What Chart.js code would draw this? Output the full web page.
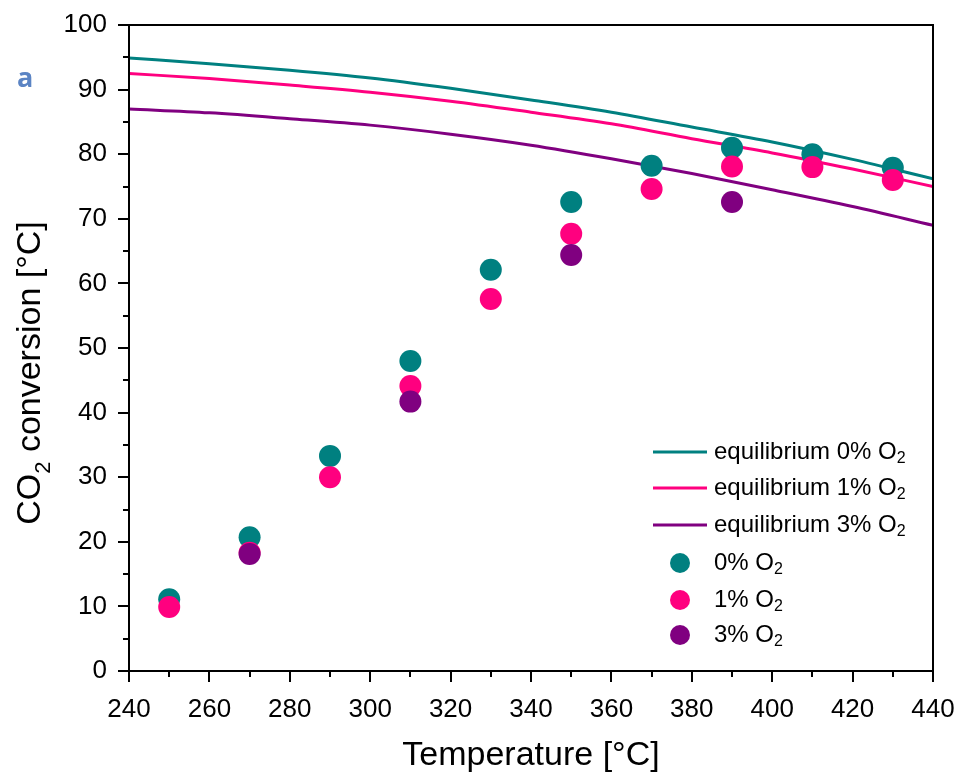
<!DOCTYPE html>
<html>
<head>
<meta charset="utf-8">
<script src="https://cdn.jsdelivr.net/npm/chart.js@4"></script>
<style>
  html, body { margin: 0; padding: 0; background: #fff; }
  #wrap { width: 956px; height: 773px; }
</style>
</head>
<body>
<div id="wrap"><canvas id="chart" width="956" height="773"></canvas></div>
<script>
// measured points (temperature in °C, conversion in %)
const tempsMeas = [250, 270, 290, 310, 330, 350, 370, 390, 410, 430];
const conv0 = [11.1, 20.7, 33.3, 48.0, 62.1, 72.6, 78.2, 81.0, 80.0, 77.9];
const conv1 = [9.9, 18.3, 30.0, 44.1, 57.6, 67.7, 74.6, 78.1, 78.0, 76.0];
const temps3 = [270, 310, 350, 390];
const conv3 = [18.1, 41.7, 64.4, 72.6];

// equilibrium curves
const tempsEq = [240, 260, 280, 300, 320, 340, 360, 380, 400, 420, 440];
const eq0 = [94.9, 94.0, 93.0, 91.8, 90.2, 88.4, 86.5, 84.2, 81.9, 79.2, 76.2];
const eq1 = [92.5, 91.7, 90.7, 89.6, 88.2, 86.5, 84.7, 82.4, 80.2, 77.7, 75.0];
const eq3 = [87.0, 86.4, 85.5, 84.5, 83.1, 81.4, 79.3, 77.0, 74.5, 71.9, 69.0];

const TEAL = '#008080', PINK = '#ff007f', PURPLE = '#800080';
const FONT = '"Liberation Sans", Arial, sans-serif';

const pts = (xs, ys) => xs.map((x, i) => ({ x, y: ys[i] }));

function lineSet(label, xs, ys, color, order){
  return { label, data: pts(xs, ys), showLine: true, borderColor: color, borderWidth: 3,
    pointRadius: 0, cubicInterpolationMode: 'monotone', order, legendKind: 'line' };
}
function dotSet(label, xs, ys, color, order){
  return { label, data: pts(xs, ys), showLine: false, backgroundColor: color, borderColor: color,
    borderWidth: 0, pointRadius: 11, order, legendKind: 'dot' };
}

// text with a subscript "2"
function drawSub(ctx, parts, x, y, size, subSize){
  let cx = x;
  parts.forEach(p => {
    if (p.sub){
      ctx.font = subSize + 'px ' + FONT;
      ctx.fillText(p.t, cx, y + size * 0.28);
    } else {
      ctx.font = size + 'px ' + FONT;
      ctx.fillText(p.t, cx, y);
    }
    cx += ctx.measureText(p.t).width;
  });
  return cx - x;
}
function measureSub(ctx, parts, size, subSize){
  let w = 0;
  parts.forEach(p => { ctx.font = (p.sub ? subSize : size) + 'px ' + FONT; w += ctx.measureText(p.t).width; });
  return w;
}

const decor = {
  id: 'decor',
  afterDraw(chart){
    const ctx = chart.ctx, xs = chart.scales.x, ys = chart.scales.y, a = chart.chartArea;
    ctx.save();
    ctx.strokeStyle = '#000';
    ctx.lineWidth = 2;
    // box
    ctx.strokeRect(a.left, a.top, a.right - a.left, a.bottom - a.top);
    // ticks
    ctx.beginPath();
    for (let v = 240; v <= 440; v += 10){
      const px = Math.round(xs.getPixelForValue(v));
      const len = (v % 20 === 0) ? 11 : 6;
      ctx.moveTo(px, a.bottom); ctx.lineTo(px, a.bottom + len);
    }
    for (let v = 0; v <= 100; v += 5){
      const py = Math.round(ys.getPixelForValue(v));
      const len = (v % 10 === 0) ? 11 : 6;
      ctx.moveTo(a.left, py); ctx.lineTo(a.left - len, py);
    }
    ctx.stroke();

    ctx.fillStyle = '#000';
    ctx.textBaseline = 'alphabetic';
    // x title
    ctx.textAlign = 'center';
    ctx.font = '34px ' + FONT;
    ctx.fillText('Temperature [°C]', (a.left + a.right) / 2, 765);
    // y title
    ctx.save();
    ctx.translate(40, 373);
    ctx.rotate(-Math.PI / 2);
    ctx.textAlign = 'left';
    const yParts = [{t: 'CO'}, {t: '2', sub: true}, {t: ' conversion [°C]'}];
    const w = measureSub(ctx, yParts, 34, 22);
    drawSub(ctx, yParts, -w / 2, 0, 34, 22);
    ctx.restore();

    // panel letter
    ctx.textAlign = 'left';
    ctx.fillStyle = '#5b84c4';
    ctx.font = 'bold 27px "Open Sans", ' + FONT;
    ctx.fillText('a', 17, 87);

    // legend
    ctx.textBaseline = 'middle';
    const rows = [452, 488, 525, 563, 600, 635];
    const labels = [
      [{t: 'equilibrium 0% O'}, {t: '2', sub: true}],
      [{t: 'equilibrium 1% O'}, {t: '2', sub: true}],
      [{t: 'equilibrium 3% O'}, {t: '2', sub: true}],
      [{t: '0% O'}, {t: '2', sub: true}],
      [{t: '1% O'}, {t: '2', sub: true}],
      [{t: '3% O'}, {t: '2', sub: true}]
    ];
    chart.data.datasets.forEach((ds, i) => {
      const y = rows[i];
      if (ds.legendKind === 'line'){
        ctx.strokeStyle = ds.borderColor; ctx.lineWidth = 3;
        ctx.beginPath(); ctx.moveTo(653, y); ctx.lineTo(707, y); ctx.stroke();
      } else {
        ctx.fillStyle = ds.backgroundColor;
        ctx.beginPath(); ctx.arc(680, y, 10, 0, Math.PI * 2); ctx.fill();
      }
      ctx.fillStyle = '#000';
      drawSub(ctx, labels[i], 714, y, 24, 16);
    });
    ctx.restore();
  }
};

new Chart(document.getElementById('chart'), {
  type: 'scatter',
  data: {
    datasets: [
      lineSet('equilibrium 0% O2', tempsEq, eq0, TEAL, 6),
      lineSet('equilibrium 1% O2', tempsEq, eq1, PINK, 5),
      lineSet('equilibrium 3% O2', tempsEq, eq3, PURPLE, 4),
      dotSet('0% O2', tempsMeas, conv0, TEAL, 3),
      dotSet('1% O2', tempsMeas, conv1, PINK, 2),
      dotSet('3% O2', temps3, conv3, PURPLE, 1)
    ]
  },
  options: {
    responsive: false,
    animation: false,
    layout: { padding: { top: 25, right: 23, left: 0, bottom: 0 } },
    plugins: { legend: { display: false }, tooltip: { enabled: false } },
    scales: {
      x: {
        type: 'linear', min: 240, max: 440,
        afterFit(s){ s.height = 102; s.paddingLeft = 0; s.paddingRight = 0; },
        grid: { display: false, drawTicks: false },
        border: { display: false },
        ticks: { stepSize: 20, padding: 23, color: '#000', font: { family: FONT, size: 26 }, maxRotation: 0 }
      },
      y: {
        min: 0, max: 100,
        afterFit(s){ s.width = 129; s.paddingTop = 0; s.paddingBottom = 0; },
        grid: { display: false, drawTicks: false },
        border: { display: false },
        ticks: { stepSize: 10, padding: 22, color: '#000', font: { family: FONT, size: 26 } }
      }
    }
  },
  plugins: [decor]
});
</script>
</body>
</html>
